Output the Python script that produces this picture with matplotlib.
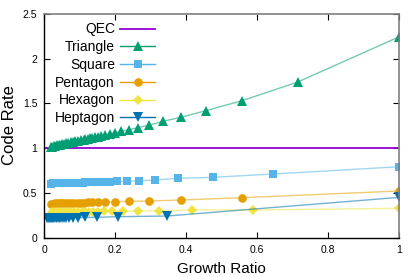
import matplotlib
matplotlib.use("Agg")
import matplotlib.pyplot as plt

# ---- data ----
qec_x = [0.0, 1.0]
qec_y = [1.0, 1.0]

tri_x = [1.0, 0.714, 0.556, 0.455, 0.385, 0.333, 0.294, 0.263, 0.238, 0.217, 0.2, 0.185,
         0.172, 0.161, 0.152, 0.143, 0.135, 0.128, 0.122, 0.116, 0.111, 0.102, 0.094,
         0.087, 0.081, 0.074, 0.068, 0.062, 0.056, 0.050, 0.045, 0.040, 0.035, 0.030,
         0.026, 0.022, 0.019]
tri_y = [2.246, 1.74, 1.53, 1.42, 1.345, 1.30, 1.255, 1.23, 1.205, 1.19, 1.175, 1.16,
         1.15, 1.14, 1.13, 1.125, 1.117, 1.111, 1.106, 1.10, 1.096, 1.088, 1.082,
         1.076, 1.07, 1.064, 1.059, 1.054, 1.049, 1.044, 1.039, 1.035, 1.031, 1.026,
         1.023, 1.019, 1.016]

sq_x = [1.0, 0.645, 0.476, 0.377, 0.3125, 0.267, 0.233, 0.206, 0.185, 0.168, 0.154,
        0.142, 0.132, 0.123, 0.115, 0.108, 0.1, 0.09, 0.08, 0.07, 0.06, 0.05, 0.04,
        0.032, 0.025, 0.02]
sq_y = [0.793, 0.712, 0.675, 0.664, 0.645, 0.635, 0.633, 0.629, 0.626, 0.624, 0.622,
        0.62, 0.619, 0.618, 0.617, 0.616, 0.615, 0.613, 0.612, 0.611, 0.61, 0.609,
        0.608, 0.607, 0.606, 0.605]

pen_x = [1.0, 0.556, 0.385, 0.294, 0.238, 0.2, 0.172, 0.152, 0.135, 0.122, 0.111,
         0.102, 0.094, 0.083, 0.074, 0.066, 0.058, 0.05, 0.043, 0.036, 0.03, 0.025, 0.02]
pen_y = [0.522, 0.447, 0.421, 0.41, 0.407, 0.402, 0.399, 0.397, 0.395, 0.394, 0.393,
         0.392, 0.391, 0.39, 0.389, 0.388, 0.387, 0.386, 0.385, 0.384, 0.383, 0.382, 0.381]

hex_x = [1.0, 0.588, 0.417, 0.323, 0.263, 0.222, 0.192, 0.169, 0.152, 0.137, 0.125,
         0.115, 0.106, 0.095, 0.085, 0.075, 0.066, 0.057, 0.049, 0.041, 0.034, 0.028, 0.022]
hex_y = [0.328, 0.31, 0.31, 0.302, 0.297, 0.295, 0.294, 0.293, 0.292, 0.291, 0.29,
         0.29, 0.289, 0.289, 0.288, 0.288, 0.287, 0.287, 0.286, 0.286, 0.285, 0.285, 0.285]

hep_x = [1.0, 0.345, 0.208, 0.149, 0.116, 0.095, 0.08, 0.07, 0.062, 0.055, 0.049,
         0.044, 0.04, 0.036, 0.032, 0.028, 0.025, 0.022, 0.019, 0.016, 0.013, 0.01, 0.007]
hep_y = [0.451, 0.242, 0.235, 0.228, 0.226, 0.225, 0.224, 0.223, 0.222, 0.222, 0.221,
         0.221, 0.22, 0.22, 0.219, 0.219, 0.218, 0.218, 0.217, 0.217, 0.216, 0.216, 0.215]

x_ticks = [0, 0.2, 0.4, 0.6, 0.8, 1]
x_ticklabels = ["0", "0.2", "0.4", "0.6", "0.8", "1"]
y_ticks = [0, 0.5, 1, 1.5, 2, 2.5]
y_ticklabels = ["0", "0.5", "1", "1.5", "2", "2.5"]

# ---- plot ----
plt.rcParams['font.family'] = ['Liberation Sans', 'DejaVu Sans']
W, H = 415, 277
fig = plt.figure(figsize=(W / 100, H / 100), dpi=100)
ax = fig.add_axes([44.3 / W, (H - 237.7) / H, 355 / W, 223.7 / H])

series = [
    ("Triangle", tri_x, tri_y, "#009e73", "^", 6.5),
    ("Square", sq_x, sq_y, "#56b4e9", "s", 6.0),
    ("Pentagon", pen_x, pen_y, "#e69f00", "o", 6.2),
    ("Hexagon", hex_x, hex_y, "#f0e442", "D", 5.0),
    ("Heptagon", hep_x, hep_y, "#0072b2", "v", 6.5),
]

handles = []
h, = ax.plot(qec_x, qec_y, color="#9400d3", lw=1.3, label="QEC")
handles.append(h)
for name, xs, ys, c, m, ms in series:
    ax.plot(xs, ys, color=c, lw=1.0, alpha=0.55)
    ax.plot(xs, ys, ls="none", marker=m, ms=ms, color=c, mew=0)
    hp, = ax.plot([], [], color=c, lw=1.0, marker=m, ms=ms, mew=0)
    handles.append(hp)

ax.set_xlim(0, 1)
ax.set_ylim(0, 2.5)
ax.set_xticks(x_ticks)
ax.set_xticklabels(x_ticklabels)
ax.set_yticks(y_ticks)
ax.set_yticklabels(y_ticklabels)
ax.tick_params(direction="in", length=4, width=0.8, labelsize=7.5, top=True, right=True,
               pad=5, colors="black")
for s in ["left", "bottom"]:
    ax.spines[s].set_color("black")
    ax.spines[s].set_linewidth(1.0)
for s in ["top", "right"]:
    ax.spines[s].set_color("#808080")
    ax.spines[s].set_linewidth(1.2)

ax.set_xlabel("Growth Ratio", fontsize=11, labelpad=5)
fig.text(10 / W, 1 - 125 / H, "Code Rate", fontsize=12, rotation=90,
         ha="center", va="center")

labels = ["QEC", "Triangle", "Square", "Pentagon", "Hexagon", "Heptagon"]
leg = ax.legend(handles, labels, loc="upper right", bbox_to_anchor=(0.328, 0.987),
                frameon=False, fontsize=10, markerfirst=False, handlelength=2.5,
                handletextpad=0.4, labelspacing=0.27, borderaxespad=0.0)
for col in leg._legend_handle_box.get_children():
    col.align = "right"

fig.savefig("out.png", dpi=100)
